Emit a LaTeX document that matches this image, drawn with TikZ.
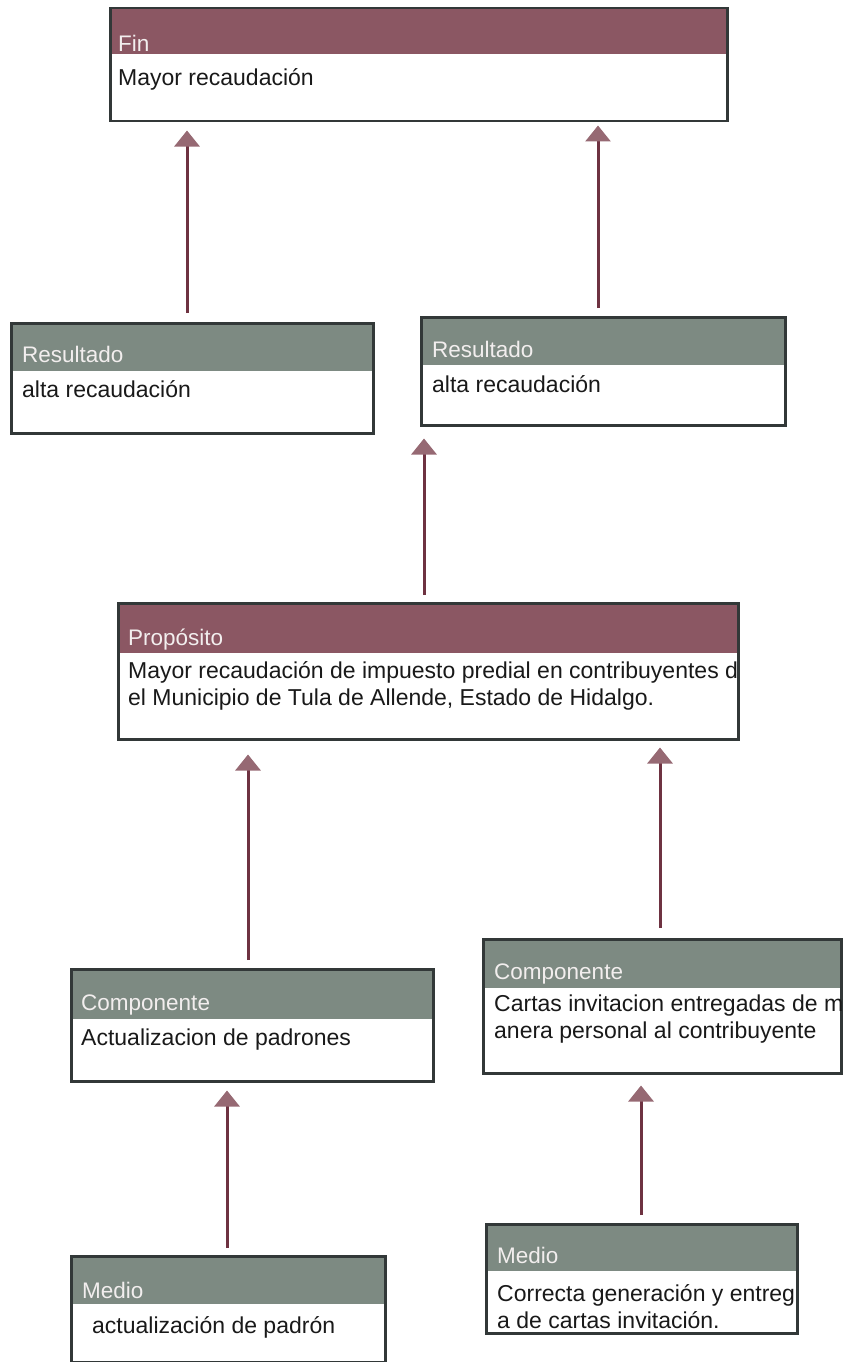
\documentclass[tikz,border=0pt]{standalone}
\usepackage{fontspec}
\setmainfont{Liberation Sans}
\usetikzlibrary{arrows.meta}
\definecolor{maroonhdr}{RGB}{139,87,99}
\definecolor{grayhdr}{RGB}{125,138,130}
\definecolor{bordercol}{RGB}{50,56,56}
\definecolor{arrline}{RGB}{110,50,65}
\definecolor{arrhead}{RGB}{150,105,115}
\definecolor{hdrtext}{RGB}{242,238,238}
\definecolor{bodytext}{RGB}{25,25,25}
\tikzset{
  card/.style n args={4}{draw=bordercol, line width=2.5pt, fill=white, anchor=north west,
    minimum width=#1, minimum height=#2, inner sep=0pt,
    path picture={\fill[#4] (path picture bounding box.north west) rectangle ([yshift=-#3]path picture bounding box.north east);}},
  hdrtxt/.style={anchor=base west, inner sep=0pt, text=hdrtext, font=\fontsize{22.5}{27}\selectfont},
  bodytxt/.style={anchor=base west, inner sep=0pt, text=bodytext, font=\fontsize{23}{27}\selectfont, align=left},
  arr/.style={draw=arrline, line width=3pt, -{Triangle[width=25pt,length=16pt,fill=arrhead,color=arrhead]}},
}
\begin{document}
\begin{tikzpicture}[x=1pt,y=-1pt]
\useasboundingbox (0,0) rectangle (843,1362);
% boxes
\node[card={617pt}{113pt}{46pt}{maroonhdr}] (fin) at (109,7) {};
\node[card={362pt}{110pt}{48pt}{grayhdr}] (res1) at (10,322) {};
\node[card={364pt}{108pt}{48pt}{grayhdr}] (res2) at (420,316) {};
\node[card={620pt}{136pt}{50pt}{maroonhdr}] (prop) at (117,602) {};
\node[card={362pt}{112pt}{50pt}{grayhdr}] (comp1) at (70,968) {};
\node[card={358pt}{134pt}{49pt}{grayhdr}] (comp2) at (482,938) {};
\node[card={314pt}{106pt}{48pt}{grayhdr}] (medio1) at (70,1255) {};
\node[card={311pt}{109pt}{47pt}{grayhdr}] (medio2) at (485,1223) {};
% texts
\node[hdrtxt] (finh) at (118,52) {Fin};
\node[bodytxt] (finb) at (118,86) {Mayor recaudación};
\node[hdrtxt] (res1h) at (22,362) {Resultado};
\node[bodytxt] (res1b) at (22,397) {alta recaudación};
\node[hdrtxt] (res2h) at (432,357) {Resultado};
\node[bodytxt] (res2b) at (432,392) {alta recaudación};
\node[hdrtxt] (proph) at (128,645) {Propósito};
\node[bodytxt] (propb1) at (128,678) {Mayor recaudación de impuesto predial en contribuyentes d};
\node[bodytxt] (propb2) at (128,705) {el Municipio de Tula de Allende, Estado de Hidalgo.};
\node[hdrtxt] (comp1h) at (81,1010) {Componente};
\node[bodytxt] (comp1b) at (81,1045) {Actualizacion de padrones};
\node[hdrtxt] (comp2h) at (494,979) {Componente};
\node[bodytxt] (comp2b1) at (494,1011) {Cartas invitacion entregadas de m};
\node[bodytxt] (comp2b2) at (494,1038) {anera personal al contribuyente};
\node[hdrtxt] (medio1h) at (82,1298) {Medio};
\node[bodytxt] (medio1b) at (92,1333) {actualización de padrón};
\node[hdrtxt] (medio2h) at (497,1263) {Medio};
\node[bodytxt] (medio2b1) at (497,1301) {Correcta generación y entreg};
\node[bodytxt] (medio2b2) at (497,1328) {a de cartas invitación.};
% connectors
\coordinate (a1) at ([xshift=177pt]res1.north west);
\coordinate (a2) at ([xshift=178pt]res2.north west);
\coordinate (a3) at ([xshift=307pt]prop.north west);
\coordinate (a4) at ([xshift=178pt]comp1.north west);
\coordinate (a5) at ([xshift=178pt]comp2.north west);
\coordinate (a6) at ([xshift=157pt]medio1.north west);
\coordinate (a7) at ([xshift=156pt]medio2.north west);
\draw[arr, shorten <=9pt, shorten >=8pt] (a1) -- (a1 |- fin.south);
\draw[arr, shorten <=8pt, shorten >=3pt] (a2) -- (a2 |- fin.south);
\draw[arr, shorten <=7pt, shorten >=12pt] (a3) -- (a3 |- res2.south);
\draw[arr, shorten <=8pt, shorten >=14pt] (a4) -- (a4 |- prop.south);
\draw[arr, shorten <=10pt, shorten >=7pt] (a5) -- (a5 |- prop.south);
\draw[arr, shorten <=7pt, shorten >=8pt] (a6) -- (a6 |- comp1.south);
\draw[arr, shorten <=8pt, shorten >=11pt] (a7) -- (a7 |- comp2.south);
\end{tikzpicture}
\end{document}
